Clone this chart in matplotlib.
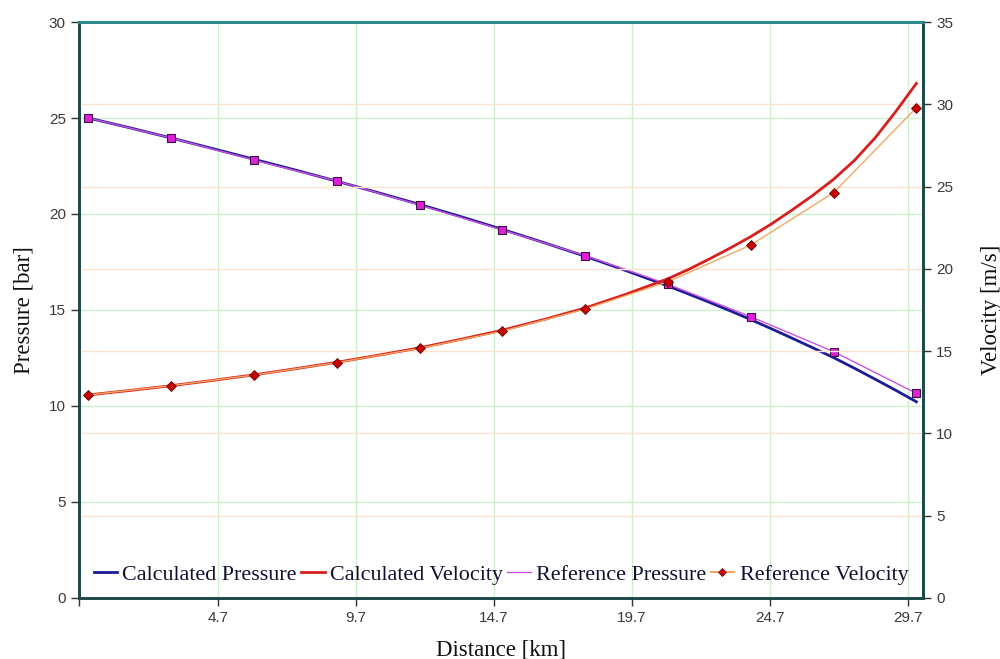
import matplotlib
matplotlib.use("Agg")
import matplotlib.pyplot as plt
from matplotlib.lines import Line2D

# Model output: every 1.5 km up to 21 km, then every 0.75 km
calc_distance = [0, 1.5, 3, 4.5, 6, 7.5, 9, 10.5, 12, 13.5, 15, 16.5, 18,
                 19.5, 21, 21.75, 22.5, 23.25, 24, 24.75, 25.5, 26.25, 27,
                 27.75, 28.5, 29.25, 30]
calc_pressure = [25.0, 24.49, 23.96, 23.41, 22.85, 22.29, 21.71, 21.11, 20.50,
                 19.86, 19.20, 18.51, 17.80, 17.04, 16.25, 15.83, 15.40, 14.96,
                 14.50, 14.02, 13.53, 13.03, 12.52, 11.97, 11.40, 10.82, 10.22]
calc_velocity = [12.34, 12.61, 12.90, 13.22, 13.56, 13.93, 14.32, 14.75, 15.20,
                 15.72, 16.27, 16.92, 17.62, 18.47, 19.40, 19.97, 20.60, 21.26,
                 21.96, 22.73, 23.58, 24.47, 25.44, 26.58, 27.95, 29.55, 31.27]

# Reference solution, every 3 km
ref_distance = [0, 3, 6, 9, 12, 15, 18, 21, 24, 27, 30]
ref_pressure = [25.0, 23.96, 22.81, 21.72, 20.47, 19.17, 17.83, 16.34, 14.65,
                12.83, 10.66]
ref_velocity = [12.34, 12.90, 13.55, 14.30, 15.17, 16.22, 17.56, 19.22, 21.45,
                24.63, 29.79]

x_ticks = [4.7, 9.7, 14.7, 19.7, 24.7, 29.7]
x_tick_labels = ["4.7", "9.7", "14.7", "19.7", "24.7", "29.7"]
p_ticks = [0, 5, 10, 15, 20, 25, 30]
v_ticks = [0, 5, 10, 15, 20, 25, 30, 35]

SERIF = ["Liberation Serif", "DejaVu Serif"]
SANS = ["Liberation Sans", "DejaVu Sans"]

fig = plt.figure(figsize=(10, 6.59), dpi=100)
ax = fig.add_axes([0.079, 0.0926, 0.844, 0.874])
ax2 = ax.twinx()

dark_spine = "#1e4a4a"
teal_spine = "#2a8a8a"

# Pressure axis
ax.set_xlim(-0.34, 30.24)
ax.set_ylim(0, 30)
ax.set_xticks([-0.34] + x_ticks)
ax.set_xticklabels([""] + x_tick_labels)
ax.set_yticks(p_ticks)
ax.grid(True, color="#ccf0cc", linewidth=1.0)
ax.set_axisbelow(True)

# Velocity axis
ax2.set_ylim(0, 35)
ax2.set_yticks(v_ticks)
ax2.yaxis.grid(True, color="#fde3cf", linewidth=1.0)
ax2.set_axisbelow(True)

for a in (ax, ax2):
    a.spines["left"].set_color(dark_spine)
    a.spines["bottom"].set_color(dark_spine)
    a.spines["top"].set_color(teal_spine)
    a.spines["right"].set_color(dark_spine)
    for s in a.spines.values():
        s.set_linewidth(2.0)
    a.tick_params(direction="out", length=6, width=1, color="#333333",
                  labelcolor="#3a3a3a", labelsize=11)
    for lbl in a.get_xticklabels() + a.get_yticklabels():
        lbl.set_family(SANS)

ax.set_xlabel("Distance [km]", family=SERIF, fontsize=16.5, color="#111111",
              labelpad=10)
ax.set_ylabel("Pressure [bar]", family=SERIF, fontsize=16.5, color="#111111",
              labelpad=10)
ax2.set_ylabel("Velocity [m/s]", family=SERIF, fontsize=16.5, color="#111111",
               labelpad=20)

# Series
ax.plot(calc_distance, calc_pressure, color="#1c1c96", linewidth=2.0,
        zorder=3)
ax.plot(ref_distance, ref_pressure, color="#d050e0", linewidth=1.0,
        marker="s", markersize=5.5, markerfacecolor="#e020d8",
        markeredgecolor="#3a1040", markeredgewidth=0.8, zorder=4)
ax2.plot(calc_distance, calc_velocity, color="#d81e1e", linewidth=2.0,
         zorder=3)
ax2.plot(ref_distance, ref_velocity, color="#f0a860", linewidth=1.0,
         marker="D", markersize=5.5, markerfacecolor="#cc0000",
         markeredgecolor="#5a0a0a", markeredgewidth=0.6, zorder=4)

handles = [
    Line2D([], [], color="#1c1c96", linewidth=2.0),
    Line2D([], [], color="#d81e1e", linewidth=2.0),
    Line2D([], [], color="#d050e0", linewidth=1.0),
    Line2D([], [], color="#f0a860", linewidth=1.5, marker="D", markersize=4.5,
           markerfacecolor="#cc0000", markeredgecolor="#5a0a0a",
           markeredgewidth=0.5),
]
labels = ["Calculated Pressure", "Calculated Velocity", "Reference Pressure",
          "Reference Velocity"]
leg = ax2.legend(handles, labels, loc="lower center",
                 bbox_to_anchor=(0.5, 0.008), ncol=4, frameon=False,
                 prop={"family": SERIF, "size": 15.9}, handlelength=1.05,
                 handletextpad=0.25, columnspacing=0.2, borderaxespad=0)
for t in leg.get_texts():
    t.set_color("#111133")

fig.savefig("out.png", dpi=100)
